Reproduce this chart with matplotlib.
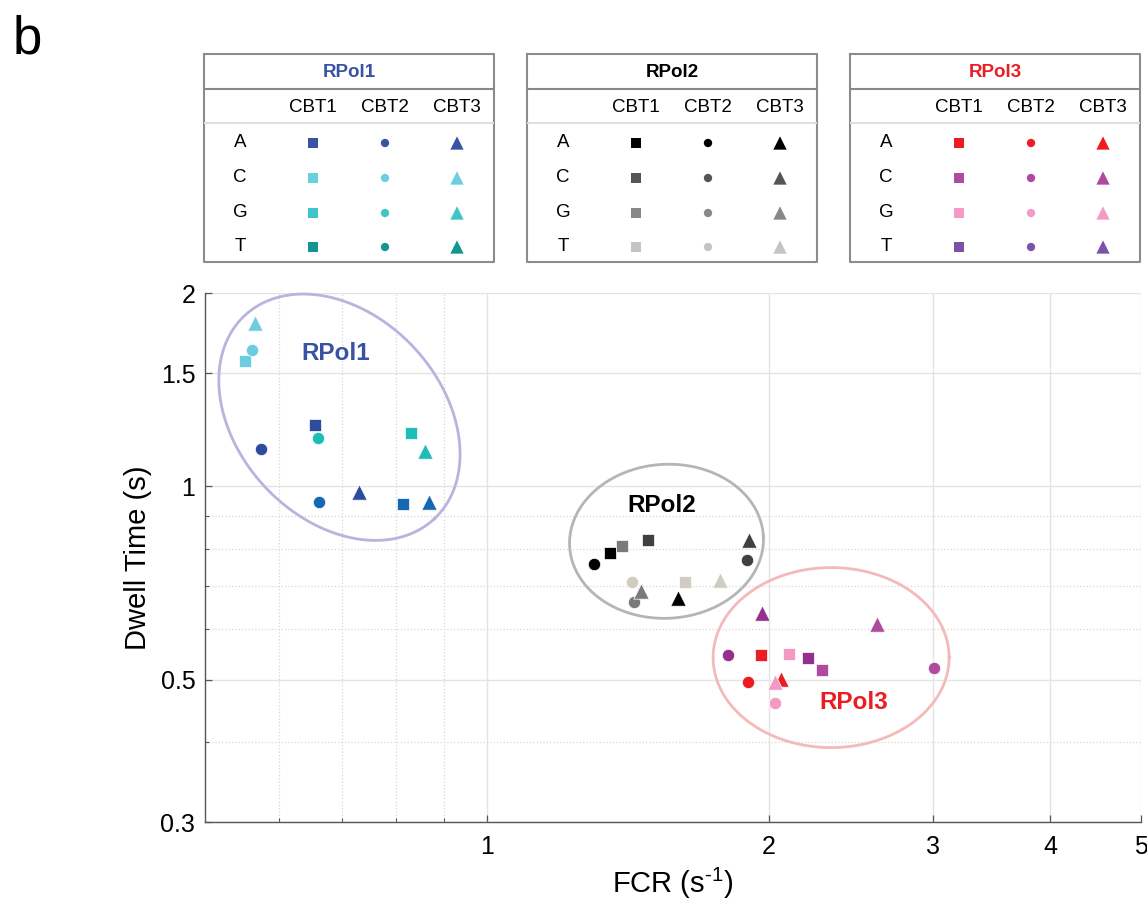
import numpy as np
import matplotlib
matplotlib.use("Agg")
import matplotlib.pyplot as plt
from matplotlib.ticker import FixedLocator, NullFormatter

plt.rcParams['font.family'] = ['Liberation Sans', 'DejaVu Sans']
plt.rcParams['mathtext.fontset'] = 'custom'
plt.rcParams['mathtext.rm'] = 'Liberation Sans'

# ---------------- data ----------------
bases = ['A', 'C', 'G', 'T']
cbts = ['CBT1', 'CBT2', 'CBT3']
polymerases = ['RPol1', 'RPol2', 'RPol3']

# FCR (s^-1) per base (rows) and CBT (columns)
rpol1_fcr = [[0.655, 0.574, 0.730],
             [0.552, 0.561, 0.566],
             [0.829, 0.661, 0.859],
             [0.814, 0.662, 0.867]]
rpol1_dwell = [[1.245, 1.145, 0.980],
               [1.569, 1.630, 1.794],
               [1.211, 1.187, 1.135],
               [0.937, 0.945, 0.945]]

rpol2_fcr = [[1.353, 1.303, 1.602],
             [1.485, 1.897, 1.904],
             [1.395, 1.437, 1.461],
             [1.628, 1.428, 1.777]]
rpol2_dwell = [[0.787, 0.758, 0.670],
               [0.826, 0.767, 0.826],
               [0.806, 0.660, 0.688],
               [0.709, 0.709, 0.715]]

rpol3_fcr = [[1.961, 1.901, 2.063],
             [2.281, 3.005, 2.611],
             [2.104, 2.030, 2.030],
             [2.204, 1.812, 1.967]]
rpol3_dwell = [[0.547, 0.495, 0.501],
               [0.518, 0.521, 0.611],
               [0.548, 0.460, 0.495],
               [0.540, 0.547, 0.634]]

fcr_data = [rpol1_fcr, rpol2_fcr, rpol3_fcr]
dwell_data = [rpol1_dwell, rpol2_dwell, rpol3_dwell]

x_ticks = [1, 2, 3, 4, 5]
x_minor = [0.6, 0.7, 0.8, 0.9]
y_ticks = [0.3, 0.5, 1, 1.5, 2]
y_minor = [0.4, 0.6, 0.7, 0.8, 0.9]

# ---------------- style ----------------
plot_colors = [['#2f4b9e', '#6dcde0', '#1dbdb8', '#1668b2'],
               ['#000000', '#404040', '#7a7a7a', '#d0ccc2'],
               ['#ec1c24', '#b04a9f', '#f39ac3', '#93308f']]
legend_colors = [['#3a52a4', '#6ccfe0', '#40c4c8', '#149590'],
                 ['#000000', '#555555', '#888888', '#c4c4c4'],
                 ['#ec1c24', '#b04aa0', '#f49ac4', '#7a52a8']]
title_colors = ['#3a52a4', '#000000', '#ec1c24']
ellipse_colors = ['#b9b3de', '#b5b5b5', '#f5b9b9']
markers = ['s', 'o', '^']
plot_sizes = [68, 78, 122]
table_sizes = [46, 36, 92]

W, H = 1147, 915
fig = plt.figure(figsize=(W / 100, H / 100), dpi=100)

def fx(px):
    return px / W

def fy(py):
    return 1 - py / H

ax = fig.add_axes([fx(205), fy(822), fx(1141) - fx(205), fy(293) - fy(822)])
ax.set_xscale('log')
ax.set_yscale('log')
ax.set_xlim(0.5, 5)
ax.set_ylim(0.3, 2)

ax.xaxis.set_major_locator(FixedLocator(x_ticks))
ax.xaxis.set_minor_locator(FixedLocator(x_minor))
ax.set_xticklabels([str(v) for v in x_ticks])
ax.xaxis.set_minor_formatter(NullFormatter())
ax.yaxis.set_major_locator(FixedLocator(y_ticks))
ax.yaxis.set_minor_locator(FixedLocator(y_minor))
ax.set_yticklabels([('%g' % v) for v in y_ticks])
ax.yaxis.set_minor_formatter(NullFormatter())

ax.grid(True, which='major', color='#e4e4e4', lw=1.0, ls='-', zorder=0)
ax.grid(True, which='minor', color='#d6d6d6', lw=0.9, ls=':', zorder=0)
ax.set_axisbelow(True)

for s in ['top', 'right']:
    ax.spines[s].set_visible(False)
for s in ['left', 'bottom']:
    ax.spines[s].set_color('#555555')
    ax.spines[s].set_linewidth(1.0)
ax.tick_params(which='major', direction='in', length=5, width=0.9, color='#555555',
               labelsize=18, pad=7)
ax.tick_params(which='minor', direction='in', length=3, width=0.8, color='#555555')
ax.tick_params(axis='x', which='major', pad=9)

ax.set_xlabel('FCR (s$^{\\mathregular{\u2010}1}$)', fontsize=21, labelpad=5)
ax.set_ylabel('Dwell Time (s)', fontsize=21, labelpad=6)

# points
for p in range(3):
    for b in [1, 0, 3, 2] if p != 2 else [3, 1, 0, 2]:
        for c in range(3):
            ax.scatter(fcr_data[p][b][c], dwell_data[p][b][c], marker=markers[c],
                       s=plot_sizes[c], color=plot_colors[p][b],
                       edgecolors='white', linewidths=0.5, zorder=4)

# ellipses (center in data coords, semi-axes in pixels, angle in degrees)
ellipses = [(0.696, 1.281, 139, 102, -47),
            (1.556, 0.821, 97, 77, 3),
            (2.333, 0.541, 118, 90, 0)]
tt = np.linspace(0, 2 * np.pi, 500)
for (cx, cy, a, b, ang), col in zip(ellipses, ellipse_colors):
    c = ax.transData.transform((cx, cy))
    th = np.deg2rad(ang)
    ex = a * np.cos(tt)
    ey = b * np.sin(tt)
    pts = np.column_stack([c[0] + ex * np.cos(th) - ey * np.sin(th),
                           c[1] + ex * np.sin(th) + ey * np.cos(th)])
    d = ax.transData.inverted().transform(pts)
    ax.plot(d[:, 0], d[:, 1], color=col, lw=2.0, zorder=3, clip_on=False)

label_pos = [(0.689, 1.61), (1.539, 0.932), (2.466, 0.461)]
for name, (lx, ly), col in zip(polymerases, label_pos, title_colors):
    ax.text(lx, ly, name, color=col, fontsize=17.5, fontweight='bold',
            ha='center', va='center', zorder=5)

# tables
box_left = [204, 527, 850]
for p in range(3):
    tax = fig.add_axes([fx(box_left[p]), fy(262), fx(290), 208 / H])
    tax.set_xlim(0, 290)
    tax.set_ylim(208, 0)
    tax.axis('off')
    tax.plot([0, 290, 290, 0, 0], [0, 0, 208, 208, 0], color='#8c8c8c', lw=1.5,
             clip_on=False)
    tax.plot([0, 290], [35, 35], color='#888888', lw=1.5)
    tax.plot([0, 290], [69, 69], color='#e0e0e0', lw=1.5)
    tax.text(145, 19, polymerases[p], color=title_colors[p], fontsize=13.5,
             fontweight='bold', ha='center', va='center')
    col_x = [109, 181, 253]
    row_y = [89, 124, 159, 193]
    for c in range(3):
        tax.text(col_x[c], 54, cbts[c], fontsize=13.5, ha='center', va='center')
    for b in range(4):
        tax.text(36, row_y[b], bases[b], fontsize=13.5, ha='center', va='center')
        for c in range(3):
            tax.scatter(col_x[c], row_y[b], marker=markers[c], s=table_sizes[c],
                        color=legend_colors[p][b], edgecolors='none')

fig.text(fx(13), fy(53), 'b', fontsize=38, ha='left', va='baseline')

fig.savefig('out.png', dpi=100)
